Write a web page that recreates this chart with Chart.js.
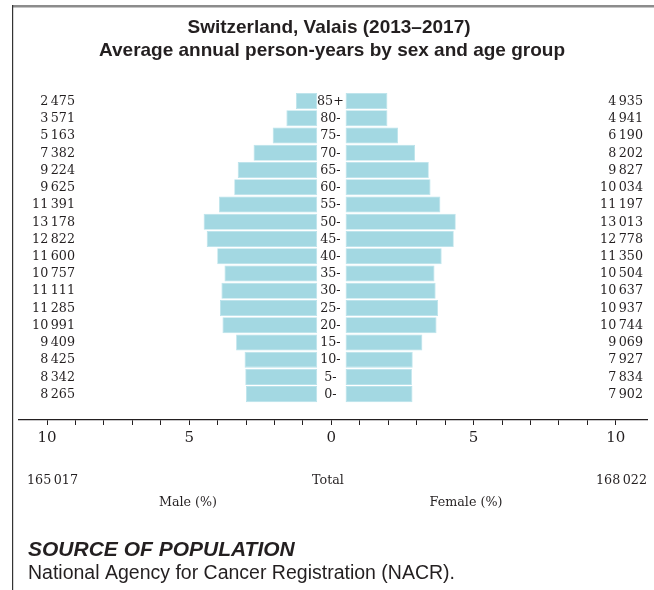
<!DOCTYPE html>
<html>
<head>
<meta charset="utf-8">
<script src="https://cdn.jsdelivr.net/npm/chart.js@4.4.1/dist/chart.umd.min.js"></script>
<style>
html,body{margin:0;padding:0;background:#fff;}
#wrap{width:654px;height:590px;position:relative;}
canvas{display:block;}
</style>
</head>
<body>
<div id="wrap"><canvas id="c" width="654" height="590"></canvas></div>
<script>
// ---- data ----
const ageGroups = ['85+','80-','75-','70-','65-','60-','55-','50-','45-','40-','35-','30-','25-','20-','15-','10-','5-','0-'];
const maleCounts = [2475,3571,5163,7382,9224,9625,11391,13178,12822,11600,10757,11111,11285,10991,9409,8425,8342,8265];
const femaleCounts = [4935,4941,6190,8202,9827,10034,11197,13013,12778,11350,10504,10637,10937,10744,9069,7927,7834,7902];
const maleTotal = 165017;
const femaleTotal = 168022;
const labelledTicks = [-10,-5,0,5,10];
const titleLines = ['Switzerland, Valais (2013\u20132017)', 'Average annual person-years by sex and age group'];

// ---- helpers ----
const GAP = 1; // half-gap around centre, in % units of the bar scale
const INK = '#231f20';
const SERIF = '"DejaVu Serif", serif';
const SANS = '"Liberation Sans", Arial, sans-serif';
function fmt(n){ return String(n).replace(/\B(?=(\d{3})+(?!\d))/g, '\u2009'); }

const maleData = maleCounts.map((c,i)=>({x:[-(GAP + c/maleTotal*100), -GAP], y:i}));
const femaleData = femaleCounts.map((c,i)=>({x:[GAP, GAP + c/femaleTotal*100], y:i}));

const textPlugin = {
  id: 'texts',
  beforeDraw(chart){
    const ctx = chart.ctx;
    ctx.save();
    ctx.fillStyle = '#fff';
    ctx.fillRect(0,0,chart.width,chart.height);
    ctx.fillStyle = '#8c8c8c';
    ctx.fillRect(12, 5, chart.width-12, 2.5);
    ctx.fillStyle = '#333';
    ctx.fillRect(12, 5, 1.2, chart.height-5);
    ctx.restore();
  },
  afterDraw(chart){
    const ctx = chart.ctx;
    const ys = chart.scales.y, xs = chart.scales.x;
    const x0 = xs.getPixelForValue(0);
    ctx.save();
    ctx.fillStyle = INK;
    ctx.textBaseline = 'middle';
    // title
    ctx.font = 'bold 19px ' + SANS;
    ctx.textAlign = 'center';
    ctx.fillText(titleLines[0], 329, 28);
    ctx.fillText(titleLines[1], 332, 51);
    // age & counts
    ctx.font = '12.7px ' + SERIF;
    ageGroups.forEach((a,i)=>{
      const y = ys.getPixelForValue(i) + 0.5;
      ctx.textAlign = 'center';
      ctx.fillText(a, x0 - 1, y);
      ctx.textAlign = 'right';
      ctx.fillText(fmt(maleCounts[i]), 75, y);
      ctx.fillText(fmt(femaleCounts[i]), 643, y);
    });
    // totals
    ctx.textAlign = 'left';
    ctx.fillText(fmt(maleTotal), 27, 480.5);
    ctx.textAlign = 'center';
    ctx.fillText('Total', 328, 480.5);
    ctx.textAlign = 'right';
    ctx.fillText(fmt(femaleTotal), 647, 480.5);
    ctx.textAlign = 'center';
    ctx.fillText('Male (%)', 188, 503);
    ctx.fillText('Female (%)', 466, 503);
    // source
    ctx.textAlign = 'left';
    ctx.font = 'italic bold 21px ' + SANS;
    ctx.fillText('SOURCE OF POPULATION', 28, 550);
    ctx.font = '19.5px ' + SANS;
    ctx.fillText('National Agency for Cancer Registration (NACR).', 28, 574);
    ctx.restore();
  }
};

new Chart(document.getElementById('c'), {
  type: 'bar',
  data: {
    datasets: [
      {label:'Male', data: maleData, xAxisID:'xb', yAxisID:'y', grouped:false, backgroundColor:'#a3d8e2', borderColor:'#b8e2ea', borderWidth:0.8, borderSkipped:false, barPercentage:0.93, categoryPercentage:1},
      {label:'Female', data: femaleData, xAxisID:'xb', yAxisID:'y', grouped:false, backgroundColor:'#a3d8e2', borderColor:'#b8e2ea', borderWidth:0.8, borderSkipped:false, barPercentage:0.93, categoryPercentage:1}
    ]
  },
  options: {
    indexAxis: 'y',
    responsive: false,
    animation: false,
    devicePixelRatio: 1,
    layout: {padding: {top: 92.4, left: 18.6, right: 6.4, bottom: 140}},
    plugins: {legend:{display:false}, tooltip:{enabled:false}, title:{display:false}},
    scales: {
      y: {type:'linear', reverse:true, min:-0.5, max:18.5, offset:false, display:false},
      xb: {type:'linear', axis:'x', min:-22, max:22.24, display:false},
      x: {
        type:'linear', position:'bottom', min:-11, max:11.12,
        ticks:{stepSize:1, autoSkip:false, maxRotation:0, padding:4,
          callback:(v)=> labelledTicks.includes(v) ? String(Math.abs(v)) : '',
          font:{family:'DejaVu Serif', size:15}, color:INK},
        grid:{drawOnChartArea:false, drawTicks:true, tickLength:5, lineWidth:1,
          tickColor:(c)=> (c.tick && Math.abs(c.tick.value) > 10.5) ? 'rgba(0,0,0,0)' : INK},
        border:{display:true, color:INK, width:1.3},
        afterFit:(s)=>{ s.height = 30; }
      }
    }
  },
  plugins:[textPlugin]
});
</script>
</body>
</html>
